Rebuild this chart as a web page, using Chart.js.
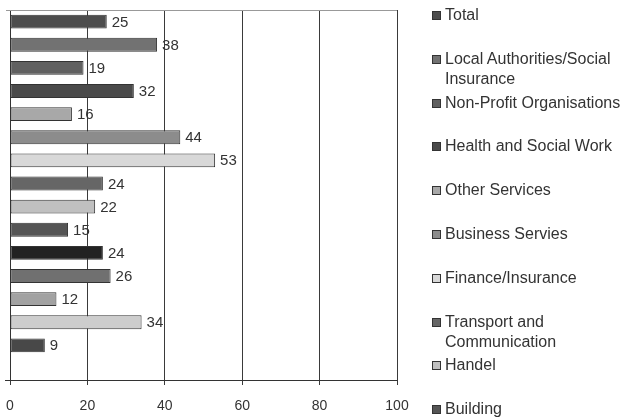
<!DOCTYPE html>
<html>
<head>
<meta charset="utf-8">
<script src="https://cdn.jsdelivr.net/npm/chart.js@4/dist/chart.umd.min.js"></script>
<style>
  html, body { margin: 0; padding: 0; background: #fff; }
  #wrap { position: relative; width: 622px; height: 418px; overflow: hidden; }
  #legend { position: absolute; left: 430px; top: 0; width: 192px; height: 418px;
            font-family: "Liberation Sans", Arial, sans-serif; font-size: 16px; color: #333; }
  .item { position: absolute; left: 0; width: 192px; line-height: 20px; }
  .box { position: absolute; left: 2px; top: 6px; width: 7px; height: 7px; border: 1px solid #333; }
  .txt { position: absolute; left: 15px; width: 177px; }
</style>
</head>
<body>
<div id="wrap">
  <canvas id="barChart" width="622" height="418"></canvas>
  <div id="legend"></div>
</div>
<script>
// Data (top to bottom)
const categories = [
  'Total', 'Local Authorities/Social Insurance', 'Non-Profit Organisations',
  'Health and Social Work', 'Other Services', 'Business Servies',
  'Finance/Insurance', 'Transport and Communication', 'Handel', 'Building',
  '', '', '', '', '', ''
];
const values = [25, 38, 19, 32, 16, 44, 53, 24, 22, 15, 24, 26, 12, 34, 9, null];
const barColors = [
  '#4d4d4d', '#727272', '#606060', '#4a4a4a', '#a8a8a8', '#8c8c8c',
  '#d8d8d8', '#666666', '#c0c0c0', '#555555', '#222222', '#707070',
  '#a2a2a2', '#cdcdcd', '#484848', '#ffffff'
];
const xTicks = [0, 20, 40, 60, 80, 100];

// value labels at bar ends
const valueLabels = {
  id: 'valueLabels',
  afterDatasetsDraw(chart) {
    const c = chart.ctx;
    c.save();
    c.font = '15px "Liberation Sans", Arial, sans-serif';
    c.fillStyle = '#333';
    c.textBaseline = 'middle';
    chart.getDatasetMeta(0).data.forEach((bar, i) => {
      if (values[i] == null) return;
      c.fillText(values[i], bar.x + 5, bar.y + 1);
    });
    c.restore();
  }
};

// top frame line and small corner tick
const frame = {
  id: 'frame',
  beforeDatasetsDraw(chart) {
    const a = chart.chartArea, c = chart.ctx;
    c.save();
    c.strokeStyle = '#999';
    c.lineWidth = 1;
    c.beginPath();
    c.moveTo(a.left - 4, a.top + 0.5);
    c.lineTo(a.right, a.top + 0.5);
    c.stroke();
    c.strokeStyle = '#333';
    c.beginPath();
    c.moveTo(a.left - 5, a.bottom + 0.5);
    c.lineTo(a.left, a.bottom + 0.5);
    c.stroke();
    c.restore();
  }
};

const ctx = document.getElementById('barChart').getContext('2d');
new Chart(ctx, {
  type: 'bar',
  data: {
    labels: categories,
    datasets: [{
      data: values,
      backgroundColor: barColors,
      borderColor: '#333',
      borderWidth: 1,
      borderSkipped: false,
      categoryPercentage: 1,
      barPercentage: 0.6
    }]
  },
  options: {
    indexAxis: 'y',
    responsive: false,
    animation: false,
    layout: { padding: { left: 10, top: 10, right: 225, bottom: 0 } },
    plugins: { legend: { display: false }, tooltip: { enabled: false } },
    scales: {
      x: {
        min: 0, max: 100,
        afterBuildTicks: s => { s.ticks = xTicks.map(v => ({ value: v })); },
        afterFit: s => { s.paddingLeft = 4; s.paddingRight = 12; s.height = 38; },
        grid: { color: '#3a3a3a', lineWidth: 1, tickLength: 5 },
        border: { color: '#333' },
        ticks: { color: '#333', padding: 13, maxRotation: 0,
                 font: { family: '"Liberation Sans", Arial, sans-serif', size: 14 } }
      },
      y: {
        grid: { display: false, drawTicks: false },
        border: { color: '#333' },
        ticks: { display: false }
      }
    }
  },
  plugins: [valueLabels, frame]
});

// HTML legend (clipped at the bottom like the original)
const legend = document.getElementById('legend');
categories.forEach((name, i) => {
  if (!name) return;
  const item = document.createElement('div');
  item.className = 'item';
  item.style.top = (5 + i * 43.8) + 'px';
  item.innerHTML = '<span class="box" style="background:' + barColors[i] + '"></span>' +
                   '<span class="txt">' + name + '</span>';
  legend.appendChild(item);
});
</script>
</body>
</html>
